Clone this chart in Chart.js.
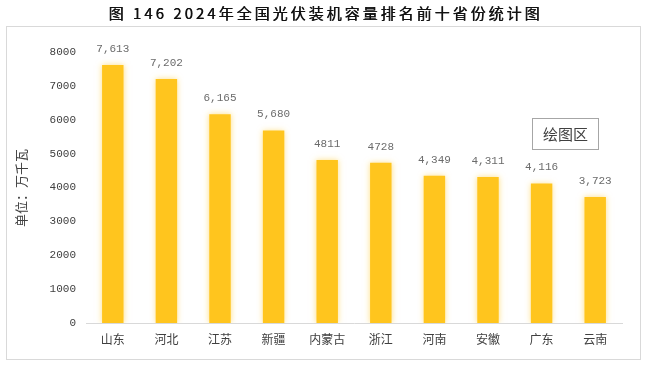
<!DOCTYPE html>
<html>
<head>
<meta charset="utf-8">
<script src="https://cdn.jsdelivr.net/npm/chart.js@4/dist/chart.umd.min.js"></script>
<style>
  html, body { margin: 0; padding: 0; background: #fff; }
  #wrap { position: relative; width: 646px; height: 367px; }
</style>
</head>
<body>
<div id="wrap"><canvas id="c" width="646" height="367"></canvas></div>
<script>
const titleText = '图 146 2024年全国光伏装机容量排名前十省份统计图';
const yAxisTitle = '单位：万千瓦';
const plotAreaLabel = '绘图区';
const provinces = ['山东', '河北', '江苏', '新疆', '内蒙古', '浙江', '河南', '安徽', '广东', '云南'];
const capacity = [7613, 7202, 6165, 5680, 4811, 4728, 4349, 4311, 4116, 3723];
const valueLabels = ['7,613', '7,202', '6,165', '5,680', '4811', '4728', '4,349', '4,311', '4,116', '3,723'];
const yTicks = [0, 1000, 2000, 3000, 4000, 5000, 6000, 7000, 8000];

const decor = {
  id: 'decor',
  beforeDraw(chart) {
    const ctx = chart.ctx;
    ctx.save();
    ctx.fillStyle = '#fff';
    ctx.fillRect(0, 0, chart.width, chart.height);
    ctx.strokeStyle = '#d9d9d9';
    ctx.lineWidth = 1;
    ctx.strokeRect(6.5, 26.5, 634, 333);
    // title
    ctx.fillStyle = '#111';
    ctx.font = '15px "Noto Sans CJK SC"';
    ctx.textBaseline = 'middle';
    ctx.textAlign = 'left';
    const w0 = ctx.measureText(titleText).width;
    const n = [...titleText].length;
    const target = 431;
    const sp = (target - w0) / (n - 1);
    ctx.letterSpacing = sp + 'px';
    ctx.fillText(titleText, 324 - target / 2, 13);
    ctx.fillText(titleText, 324.4 - target / 2, 13);
    ctx.letterSpacing = '0px';
    // y axis title
    ctx.translate(21, 188);
    ctx.rotate(-Math.PI / 2);
    ctx.textAlign = 'center';
    ctx.fillStyle = '#404040';
    ctx.font = '13px "Noto Sans CJK SC"';
    ctx.fillText(yAxisTitle, 0, 0);
    ctx.restore();
  },
  beforeDatasetDraw(chart) {
    const ctx = chart.ctx;
    ctx.save();
    ctx.shadowColor = 'rgba(255, 197, 30, 0.55)';
    ctx.shadowBlur = 6;
  },
  afterDatasetDraw(chart) {
    chart.ctx.restore();
  },
  afterDatasetsDraw(chart) {
    const ctx = chart.ctx;
    const meta = chart.getDatasetMeta(0);
    ctx.save();
    ctx.fillStyle = '#6b6b6b';
    ctx.font = '11px "Liberation Mono"';
    ctx.textAlign = 'center';
    ctx.textBaseline = 'middle';
    meta.data.forEach((bar, i) => {
      ctx.fillText(valueLabels[i], bar.x, bar.y - 16);
    });
    // plot area label box
    ctx.strokeStyle = '#a6a6a6';
    ctx.lineWidth = 1;
    ctx.strokeRect(532.5, 118.5, 66, 31);
    ctx.fillStyle = '#404040';
    ctx.font = '15px "Noto Sans CJK SC"';
    ctx.fillText(plotAreaLabel, 565.5, 134);
    ctx.restore();
  }
};

new Chart(document.getElementById('c'), {
  type: 'bar',
  data: {
    labels: provinces,
    datasets: [{
      data: capacity,
      backgroundColor: '#FFC51E',
      borderWidth: 0,
      categoryPercentage: 1,
      barPercentage: 0.4
    }]
  },
  options: {
    responsive: false,
    animation: false,
    devicePixelRatio: 1,
    layout: { padding: { left: 0, right: 24, top: 52, bottom: 0 } },
    plugins: { legend: { display: false }, tooltip: { enabled: false }, title: { display: false } },
    scales: {
      x: {
        grid: { display: false, drawTicks: false },
        border: { display: true, color: '#d9d9d9', width: 1 },
        ticks: { color: '#404040', font: { family: '"Noto Sans CJK SC"', size: 12 }, padding: 9, maxRotation: 0 },
        afterFit(s) { s.height = 44; }
      },
      y: {
        min: 0, max: 8000,
        afterBuildTicks(s) { s.ticks = yTicks.map(v => ({ value: v })); },
        grid: { display: false, drawTicks: false },
        border: { display: false },
        ticks: { color: '#404040', font: { family: '"Liberation Mono"', size: 11 }, padding: 10, callback: v => String(v) },
        afterFit(s) { s.width = 86; }
      }
    }
  },
  plugins: [decor]
});
</script>
</body>
</html>
